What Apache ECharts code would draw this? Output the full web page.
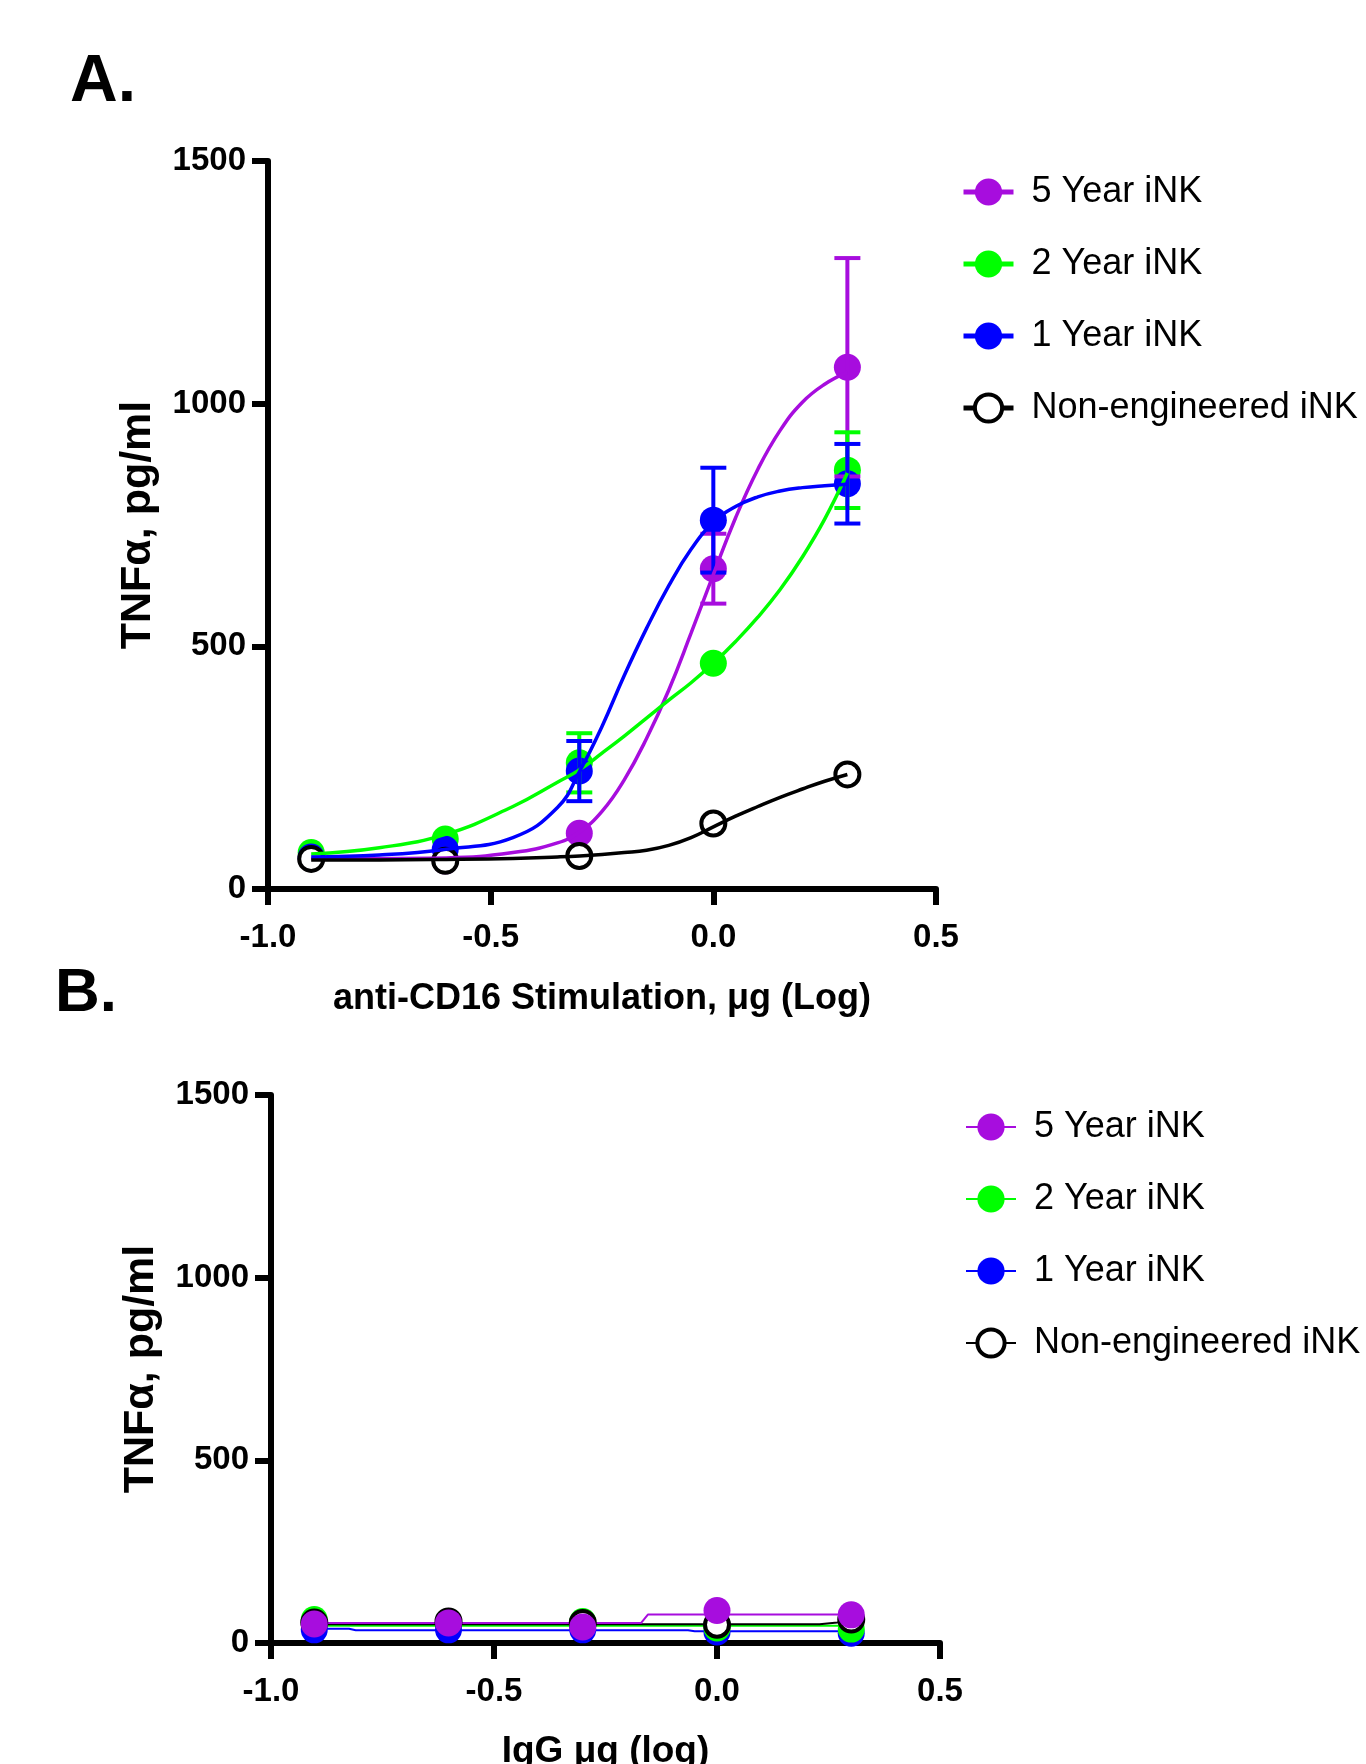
<!DOCTYPE html>
<html>
<head>
<meta charset="utf-8">
<script src="https://cdn.jsdelivr.net/npm/echarts@6/dist/echarts.min.js"></script>
<style>
  html, body { margin: 0; padding: 0; background: #fff; }
  #chart { width: 1366px; height: 1764px; }
</style>
</head>
<body>
<div id="chart"></div>
<script>
// ---------- data ----------
const groupNames = ['5 Year iNK', '2 Year iNK', '1 Year iNK', 'Non-engineered iNK'];
const groupColors = ['#A70DDE', '#00FF00', '#0000FF', '#000000'];
const xTickLabels = ['-1.0', '-0.5', '0.0', '0.5'];
const yTickLabels = ['0', '500', '1000', '1500'];

// log10 of dose (0.125, 0.25, 0.5, 1, 2 µg)
const xLog = [-0.903, -0.602, -0.301, 0, 0.301];

// Panel A: anti-CD16 stimulation (mean, SD)
const a5Year = [63, 58, 115, 660, 1075];
const a5YearErr = [null, null, null, 72, 225];
const a2Year = [75, 103, 260, 465, 863];
const a2YearErr = [null, null, 61, null, 78];
const a1Year = [66, 82, 243, 760, 835];
const a1YearErr = [null, null, 62, 108, 82];
const aNonEng = [62, 58, 68, 135, 236];

// Panel A: fitted curves
const aFitX = [-0.903, -0.75, -0.6, -0.45, -0.35, -0.3, -0.25, -0.2, -0.15, -0.1, -0.05, 0, 0.05, 0.1, 0.15, 0.2, 0.25, 0.301];
const aFit5Year = [63, 63, 64, 75, 95, 118, 160, 225, 310, 410, 527, 648, 765, 865, 945, 1003, 1040, 1065];
const aFit2Year = [72, 85, 113, 170, 220, 246, 280, 315, 352, 389, 425, 465, 510, 560, 617, 684, 762, 857];
const aFit1Year = [66, 70, 82, 106, 168, 243, 335, 440, 537, 625, 700, 755, 788, 808, 820, 827, 831, 834];
const aFitNonEng = [60, 60, 61, 63, 66, 68, 71, 75, 80, 90, 106, 128, 150, 170, 189, 206, 222, 236];

// Panel B: IgG control
const b5Year = [52, 55, 44, 89, 77];
const b2Year = [64, 59, 59, 41, 38];
const b1Year = [36, 36, 36, 30, 27];
const bNonEng = [56, 59, 55, 50, 64];

// Panel B: fitted lines
const bFit5YearX = [-0.903, -0.17, -0.155, 0.301];
const bFit5Year = [55, 55, 78, 78];
const bFit2YearX = [-0.903, 0.301];
const bFit2Year = [47, 47];
const bFit1YearX = [-0.903, -0.825, -0.81, -0.065, -0.05, 0.301];
const bFit1Year = [39, 39, 35, 35, 32, 32];
const bFitNonEngX = [-0.903, 0.23, 0.27, 0.301];
const bFitNonEng = [51, 51, 56, 64];

// ---------- helpers ----------
const FONT = '"Liberation Sans", Arial, sans-serif';
const zip = (xs, ys) => xs.map((x, i) => [x, ys[i]]);

function errData(vals, errs) {
  const out = [];
  xLog.forEach((x, i) => { if (errs[i] != null) out.push([x, vals[i] - errs[i], vals[i] + errs[i]]); });
  return out;
}

function errorSeries(name, color, vals, errs, gi, z) {
  return {
    type: 'custom', name, xAxisIndex: gi, yAxisIndex: gi, z, silent: true,
    data: errData(vals, errs),
    encode: { x: 0, y: [1, 2] },
    renderItem(params, api) {
      const x = api.value(0);
      const lo = api.coord([x, api.value(1)]);
      const hi = api.coord([x, api.value(2)]);
      const w = 13;
      const st = { stroke: color, lineWidth: 4, fill: null };
      return {
        type: 'group',
        children: [
          { type: 'line', shape: { x1: lo[0], y1: lo[1], x2: hi[0], y2: hi[1] }, style: st },
          { type: 'line', shape: { x1: lo[0] - w, y1: lo[1], x2: lo[0] + w, y2: lo[1] }, style: st },
          { type: 'line', shape: { x1: hi[0] - w, y1: hi[1], x2: hi[0] + w, y2: hi[1] }, style: st }
        ]
      };
    }
  };
}

function pointStyle(k) {
  if (k === 3) return { color: '#ffffff', borderColor: '#000000', borderWidth: 4, opacity: 1 };
  return { color: groupColors[k], borderWidth: 0, opacity: 1 };
}

function fitSeries(k, gi, data, width, smooth, z) {
  return {
    type: 'line', name: groupNames[k], xAxisIndex: gi, yAxisIndex: gi, z,
    data, symbol: 'none', smooth, silent: true,
    lineStyle: { color: groupColors[k], width },
    itemStyle: pointStyle(k)
  };
}

function pointSeries(k, gi, vals, z) {
  return {
    type: 'scatter', name: groupNames[k], xAxisIndex: gi, yAxisIndex: gi, z, silent: true,
    data: zip(xLog, vals), symbol: 'circle', symbolSize: k === 3 ? 24 : 27,
    itemStyle: pointStyle(k)
  };
}

const aPts = [a5Year, a2Year, a1Year, aNonEng];
const aErrs = [a5YearErr, a2YearErr, a1YearErr, null];
const aFits = [aFit5Year, aFit2Year, aFit1Year, aFitNonEng];
const bPts = [b5Year, b2Year, b1Year, bNonEng];
const bFits = [zip(bFit5YearX, bFit5Year), zip(bFit2YearX, bFit2Year), zip(bFit1YearX, bFit1Year), zip(bFitNonEngX, bFitNonEng)];

const series = [];
// Panel A: fit lines first (legend icons), drawn on top via z
for (let k = 0; k < 4; k++) series.push(fitSeries(k, 0, zip(aFitX, aFits[k]), 3.5, 0.45, 10 + k));
for (let k = 0; k < 4; k++) {
  series.push(pointSeries(k, 0, aPts[k], 2 + k * 0.1));
  if (aErrs[k]) series.push(errorSeries(groupNames[k], groupColors[k], aPts[k], aErrs[k], 0, 6 + k * 0.1));
}
// Panel B: lines under points; draw order blue, green, black, purple
const bOrder = [2, 1, 3, 0];
bOrder.forEach((k, j) => series.push(fitSeries(k, 1, bFits[k], 2, false, 2 + j * 0.1)));
bOrder.forEach((k, j) => series.push(pointSeries(k, 1, bPts[k], 4 + j * 0.1)));

function xAxisCfg(gi, name, gap, nameSize) {
  return {
    type: 'value', gridIndex: gi, min: -1, max: 0.5, interval: 0.5,
    name, nameLocation: 'middle', nameGap: gap,
    nameTextStyle: { fontFamily: FONT, fontWeight: 'bold', fontSize: nameSize, color: '#000' },
    axisLine: { show: true, onZero: false, lineStyle: { color: '#000', width: 6 } },
    axisTick: { show: true, inside: false, length: 16, lineStyle: { color: '#000', width: 6 } },
    axisLabel: { margin: 32, fontFamily: FONT, fontWeight: 'bold', fontSize: 33, color: '#000',
      formatter: (v, i) => xTickLabels[i] },
    splitLine: { show: false }
  };
}
function yAxisCfg(gi, gap) {
  return {
    type: 'value', gridIndex: gi, min: 0, max: 1500, interval: 500,
    name: 'TNFα, pg/ml', nameLocation: 'middle', nameGap: gap, nameRotate: 90,
    nameTextStyle: { fontFamily: FONT, fontWeight: 'bold', fontSize: 43, color: '#000' },
    axisLine: { show: true, onZero: false, lineStyle: { color: '#000', width: 6 } },
    axisTick: { show: true, inside: false, length: 16, lineStyle: { color: '#000', width: 6 } },
    axisLabel: { margin: 22, fontFamily: FONT, fontWeight: 'bold', fontSize: 33, color: '#000',
      formatter: (v, i) => yTickLabels[i] },
    splitLine: { show: false }
  };
}

function legendCfg(left, top, lineW, gap) {
  return {
    orient: 'vertical', left, top, itemWidth: 50, itemHeight: 34, itemGap: gap,
    data: groupNames.map((n, k) => k === 3
      ? { name: n, itemStyle: { color: '#ffffff', borderColor: '#000000', borderWidth: 4 } }
      : { name: n }),
    selectedMode: false,
    lineStyle: { width: lineW },
    textStyle: { fontFamily: FONT, fontSize: 36, color: '#000', padding: [0, 0, 0, 13] }
  };
}

const option = {
  animation: false,
  backgroundColor: '#ffffff',
  title: [
    { text: 'A.', left: 65, top: 45, textStyle: { fontFamily: FONT, fontWeight: 'bold', fontSize: 66, color: '#000' } },
    { text: 'B.', left: 50, top: 958, textStyle: { fontFamily: FONT, fontWeight: 'bold', fontSize: 62, color: '#000' } }
  ],
  grid: [
    { left: 268, top: 161, width: 668, height: 728, containLabel: false, outerBoundsMode: 'none' },
    { left: 271, top: 1095, width: 669, height: 548, containLabel: false, outerBoundsMode: 'none' }
  ],
  xAxis: [
    xAxisCfg(0, 'anti-CD16 Stimulation, μg (Log)', 92, 36),
    xAxisCfg(1, 'IgG μg (log)', 90, 37)
  ],
  yAxis: [yAxisCfg(0, 108), yAxisCfg(1, 108)],
  legend: [legendCfg(956, 169, 5, 36), legendCfg(960, 1104, 2, 36)],
  series
};

const chart = echarts.init(document.getElementById('chart'), null, { renderer: 'canvas' });
chart.setOption(option);
</script>
</body>
</html>
